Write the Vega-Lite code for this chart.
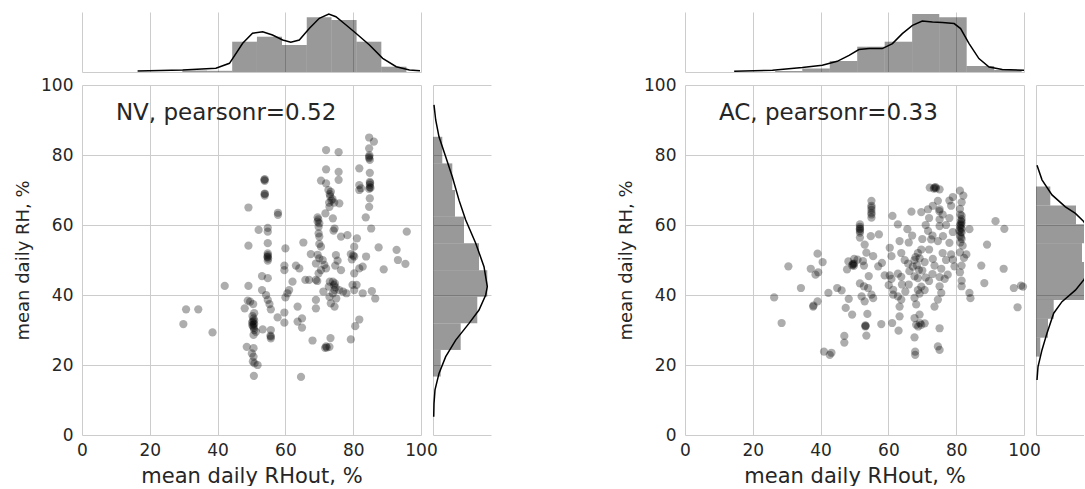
{
"$schema": "https://vega.github.io/schema/vega-lite/v6.json",
"padding": {"left": 14, "top": 10, "right": 0, "bottom": 0},
"config": {"font": "DejaVu Sans", "view": {"stroke": null}},
"columns": 5,
"bounds": "flush",
"spacing": {"row": 13, "column": 12},
"datasets": {
"nv": [{"x":30.7,"y":35.9},{"x":34.3,"y":35.9},{"x":29.9,"y":31.7},{"x":38.5,"y":29.3},{"x":42.1,"y":42.6},{"x":49.1,"y":65.0},{"x":49.1,"y":54.1},{"x":49.1,"y":42.6},{"x":48.0,"y":36.2},{"x":52.1,"y":58.6},{"x":53.9,"y":73.1},{"x":53.9,"y":72.6},{"x":53.9,"y":69.0},{"x":53.9,"y":68.4},{"x":54.8,"y":59.2},{"x":54.8,"y":58.1},{"x":54.8,"y":54.8},{"x":54.8,"y":51.9},{"x":54.8,"y":51.0},{"x":54.8,"y":49.8},{"x":54.9,"y":50.4},{"x":53.1,"y":45.4},{"x":54.8,"y":44.8},{"x":53.1,"y":41.4},{"x":54.3,"y":40.0},{"x":54.8,"y":38.6},{"x":55.3,"y":37.4},{"x":55.7,"y":35.9},{"x":57.8,"y":63.5},{"x":57.8,"y":62.9},{"x":60.0,"y":53.3},{"x":59.7,"y":48.4},{"x":59.7,"y":47.1},{"x":63.1,"y":48.4},{"x":64.1,"y":47.6},{"x":65.3,"y":55.0},{"x":67.5,"y":51.7},{"x":60.6,"y":40.5},{"x":61.1,"y":41.4},{"x":62.1,"y":43.8},{"x":60.0,"y":39.3},{"x":59.7,"y":35.0},{"x":59.7,"y":32.1},{"x":57.7,"y":33.6},{"x":63.6,"y":36.7},{"x":63.6,"y":32.4},{"x":64.9,"y":33.3},{"x":64.9,"y":30.7},{"x":65.9,"y":44.3},{"x":67.0,"y":44.3},{"x":69.0,"y":44.3},{"x":69.8,"y":46.2},{"x":70.5,"y":47.1},{"x":69.0,"y":38.6},{"x":69.0,"y":36.2},{"x":71.2,"y":41.0},{"x":68.0,"y":27.0},{"x":71.7,"y":24.9},{"x":72.0,"y":25.3},{"x":73.0,"y":25.2},{"x":73.3,"y":27.7},{"x":64.6,"y":16.6},{"x":50.7,"y":16.9},{"x":49.6,"y":38.1},{"x":50.5,"y":37.4},{"x":50.8,"y":34.8},{"x":50.6,"y":33.3},{"x":50.8,"y":32.7},{"x":50.2,"y":31.4},{"x":50.8,"y":31.8},{"x":50.8,"y":30.0},{"x":50.6,"y":28.6},{"x":50.6,"y":24.8},{"x":50.1,"y":23.3},{"x":50.6,"y":22.4},{"x":50.9,"y":20.5},{"x":51.8,"y":20.0},{"x":50.4,"y":21.0},{"x":51.3,"y":29.5},{"x":50.3,"y":34.0},{"x":53.3,"y":30.2},{"x":55.7,"y":28.1},{"x":55.7,"y":27.6},{"x":55.7,"y":30.0},{"x":48.6,"y":25.2},{"x":48.9,"y":38.4},{"x":72.0,"y":81.4},{"x":75.7,"y":80.8},{"x":72.0,"y":75.9},{"x":75.7,"y":75.2},{"x":75.7,"y":72.9},{"x":70.5,"y":72.7},{"x":72.0,"y":71.9},{"x":72.7,"y":70.0},{"x":73.4,"y":69.5},{"x":73.9,"y":67.4},{"x":74.4,"y":66.4},{"x":75.9,"y":66.2},{"x":72.9,"y":66.4},{"x":73.2,"y":68.2},{"x":69.5,"y":62.2},{"x":69.5,"y":61.0},{"x":69.8,"y":57.6},{"x":70.0,"y":56.7},{"x":70.0,"y":54.6},{"x":70.5,"y":53.8},{"x":69.8,"y":59.5},{"x":74.0,"y":61.9},{"x":74.5,"y":59.0},{"x":74.2,"y":58.4},{"x":71.8,"y":63.3},{"x":73.0,"y":65.2},{"x":76.4,"y":56.7},{"x":78.3,"y":57.1},{"x":81.1,"y":56.2},{"x":80.3,"y":53.8},{"x":79.3,"y":51.7},{"x":80.3,"y":51.0},{"x":79.6,"y":50.2},{"x":83.8,"y":51.0},{"x":81.8,"y":47.6},{"x":82.8,"y":48.1},{"x":80.3,"y":46.2},{"x":74.9,"y":51.4},{"x":75.4,"y":49.8},{"x":74.7,"y":48.4},{"x":76.4,"y":47.1},{"x":71.5,"y":48.6},{"x":72.0,"y":47.6},{"x":71.0,"y":50.0},{"x":74.0,"y":43.8},{"x":74.5,"y":41.4},{"x":75.9,"y":41.4},{"x":74.0,"y":40.5},{"x":75.0,"y":39.0},{"x":74.5,"y":36.7},{"x":74.8,"y":42.2},{"x":77.0,"y":41.0},{"x":78.0,"y":40.5},{"x":79.8,"y":42.9},{"x":80.3,"y":41.4},{"x":81.0,"y":42.9},{"x":82.8,"y":40.5},{"x":85.5,"y":41.1},{"x":86.5,"y":39.0},{"x":79.3,"y":27.3},{"x":80.6,"y":31.1},{"x":81.8,"y":33.0},{"x":73.0,"y":39.5},{"x":73.4,"y":37.6},{"x":72.8,"y":42.4},{"x":73.1,"y":43.8},{"x":84.7,"y":85.0},{"x":86.1,"y":83.8},{"x":84.7,"y":81.9},{"x":84.7,"y":79.1},{"x":84.9,"y":78.6},{"x":84.9,"y":74.9},{"x":84.9,"y":72.3},{"x":84.9,"y":70.8},{"x":84.7,"y":70.3},{"x":85.1,"y":70.6},{"x":84.9,"y":67.6},{"x":84.7,"y":65.2},{"x":83.7,"y":62.2},{"x":85.3,"y":59.0},{"x":84.7,"y":79.5},{"x":81.8,"y":76.2},{"x":81.8,"y":71.4},{"x":81.8,"y":70.0},{"x":82.3,"y":70.5},{"x":87.5,"y":53.6},{"x":89.0,"y":47.3},{"x":92.8,"y":52.9},{"x":93.2,"y":50.0},{"x":95.4,"y":48.9},{"x":95.8,"y":58.1},{"x":69.0,"y":49.0},{"x":70.0,"y":50.5},{"x":69.5,"y":51.5},{"x":50.5,"y":31.0},{"x":50.2,"y":32.2},{"x":50.6,"y":31.6},{"x":50.4,"y":32.5},{"x":50.7,"y":30.6},{"x":54.8,"y":51.4},{"x":54.7,"y":50.8},{"x":70.0,"y":60.5},{"x":69.7,"y":61.6},{"x":73.1,"y":68.8},{"x":73.6,"y":67.0},{"x":84.9,"y":71.5},{"x":85.0,"y":72.0},{"x":84.8,"y":79.9},{"x":74.3,"y":42.8},{"x":74.6,"y":43.3},{"x":69.4,"y":44.0},{"x":80.0,"y":51.3},{"x":53.8,"y":72.9},{"x":53.9,"y":68.8},{"x":55.6,"y":28.4},{"x":72.2,"y":25.0}],
"ac": [{"x":26.3,"y":39.3},{"x":28.5,"y":32.0},{"x":30.5,"y":48.2},{"x":34.2,"y":42.0},{"x":37.1,"y":47.5},{"x":39.1,"y":51.8},{"x":40.6,"y":49.4},{"x":38.5,"y":45.8},{"x":39.3,"y":46.5},{"x":37.8,"y":36.7},{"x":39.1,"y":38.2},{"x":37.9,"y":37.0},{"x":42.3,"y":40.6},{"x":44.9,"y":42.0},{"x":46.2,"y":41.3},{"x":41.0,"y":23.8},{"x":42.7,"y":22.9},{"x":43.2,"y":23.5},{"x":47.0,"y":28.3},{"x":47.0,"y":26.4},{"x":47.4,"y":36.3},{"x":48.3,"y":38.9},{"x":49.3,"y":34.4},{"x":48.2,"y":49.6},{"x":49.9,"y":50.3},{"x":50.9,"y":50.1},{"x":47.8,"y":47.3},{"x":49.6,"y":48.7},{"x":49.3,"y":48.5},{"x":49.9,"y":49.0},{"x":51.6,"y":60.2},{"x":51.6,"y":58.8},{"x":51.6,"y":57.8},{"x":51.6,"y":56.4},{"x":51.6,"y":59.5},{"x":55.0,"y":66.9},{"x":55.0,"y":65.5},{"x":55.0,"y":63.5},{"x":55.0,"y":62.1},{"x":55.0,"y":64.3},{"x":54.8,"y":56.8},{"x":57.2,"y":57.3},{"x":53.0,"y":54.4},{"x":53.5,"y":52.1},{"x":55.5,"y":51.1},{"x":57.0,"y":48.2},{"x":58.1,"y":49.2},{"x":52.5,"y":49.7},{"x":52.8,"y":48.4},{"x":54.2,"y":45.4},{"x":51.6,"y":43.3},{"x":52.8,"y":42.5},{"x":54.0,"y":42.0},{"x":55.0,"y":40.1},{"x":52.1,"y":39.6},{"x":55.5,"y":39.1},{"x":53.0,"y":38.2},{"x":53.8,"y":34.6},{"x":53.2,"y":31.3},{"x":53.2,"y":31.0},{"x":53.5,"y":28.4},{"x":57.9,"y":31.7},{"x":61.1,"y":32.0},{"x":63.0,"y":29.8},{"x":61.2,"y":62.6},{"x":62.8,"y":60.2},{"x":63.3,"y":55.4},{"x":65.6,"y":58.8},{"x":66.8,"y":63.8},{"x":69.7,"y":63.7},{"x":60.4,"y":53.5},{"x":60.9,"y":51.1},{"x":58.9,"y":45.6},{"x":60.4,"y":45.6},{"x":60.9,"y":44.6},{"x":60.1,"y":42.8},{"x":62.8,"y":46.1},{"x":63.8,"y":45.2},{"x":61.4,"y":41.5},{"x":61.4,"y":40.1},{"x":62.8,"y":39.6},{"x":63.8,"y":38.7},{"x":63.3,"y":36.7},{"x":63.3,"y":33.9},{"x":63.8,"y":52.0},{"x":64.8,"y":50.0},{"x":65.8,"y":49.0},{"x":67.7,"y":50.0},{"x":67.2,"y":48.1},{"x":66.2,"y":46.8},{"x":68.7,"y":52.0},{"x":69.7,"y":53.0},{"x":69.2,"y":50.5},{"x":67.7,"y":45.3},{"x":68.7,"y":44.8},{"x":69.7,"y":42.4},{"x":68.7,"y":41.4},{"x":69.2,"y":40.4},{"x":70.7,"y":41.4},{"x":67.7,"y":39.2},{"x":68.2,"y":37.3},{"x":69.2,"y":34.4},{"x":67.7,"y":33.4},{"x":68.2,"y":31.5},{"x":69.7,"y":31.5},{"x":70.7,"y":31.9},{"x":67.7,"y":27.9},{"x":71.7,"y":64.5},{"x":73.1,"y":65.5},{"x":75.1,"y":64.5},{"x":72.2,"y":70.7},{"x":73.6,"y":70.7},{"x":75.1,"y":70.2},{"x":74.0,"y":70.5},{"x":74.6,"y":66.9},{"x":75.1,"y":61.6},{"x":75.1,"y":59.7},{"x":76.1,"y":56.8},{"x":71.7,"y":58.3},{"x":72.6,"y":55.9},{"x":74.6,"y":55.4},{"x":70.7,"y":49.4},{"x":73.1,"y":50.3},{"x":73.6,"y":48.4},{"x":75.6,"y":47.5},{"x":75.1,"y":45.1},{"x":76.6,"y":44.6},{"x":75.1,"y":42.5},{"x":75.6,"y":40.6},{"x":74.6,"y":38.7},{"x":73.6,"y":36.7},{"x":75.1,"y":30.5},{"x":74.6,"y":25.3},{"x":75.1,"y":24.3},{"x":67.9,"y":23.8},{"x":67.9,"y":22.9},{"x":78.0,"y":54.9},{"x":78.5,"y":51.6},{"x":79.0,"y":50.1},{"x":79.5,"y":48.2},{"x":77.5,"y":45.8},{"x":81.1,"y":69.8},{"x":82.1,"y":68.4},{"x":81.6,"y":66.5},{"x":81.1,"y":64.6},{"x":81.6,"y":62.7},{"x":81.6,"y":61.7},{"x":81.6,"y":60.8},{"x":81.1,"y":59.8},{"x":81.6,"y":58.9},{"x":81.6,"y":57.9},{"x":81.1,"y":57.0},{"x":81.6,"y":56.0},{"x":81.9,"y":54.1},{"x":81.1,"y":52.2},{"x":81.6,"y":48.4},{"x":81.1,"y":46.5},{"x":81.6,"y":44.1},{"x":81.6,"y":42.5},{"x":81.3,"y":60.3},{"x":81.3,"y":59.2},{"x":81.4,"y":61.2},{"x":80.9,"y":58.4},{"x":82.3,"y":50.6},{"x":83.0,"y":51.6},{"x":83.9,"y":58.8},{"x":78.5,"y":65.5},{"x":83.9,"y":40.6},{"x":84.2,"y":39.1},{"x":87.4,"y":48.4},{"x":88.3,"y":43.4},{"x":89.1,"y":54.4},{"x":91.6,"y":61.1},{"x":94.2,"y":58.9},{"x":94.0,"y":47.5},{"x":97.0,"y":42.0},{"x":99.1,"y":42.7},{"x":98.1,"y":36.5},{"x":99.7,"y":42.4},{"x":66,"y":55},{"x":67,"y":57},{"x":70,"y":56},{"x":71,"y":60},{"x":72,"y":62},{"x":77,"y":60},{"x":78,"y":62},{"x":79,"y":58},{"x":66,"y":43},{"x":72,"y":44},{"x":73,"y":46},{"x":76,"y":52},{"x":77,"y":50},{"x":70,"y":47},{"x":71,"y":45},{"x":64,"y":43},{"x":65,"y":41},{"x":72,"y":53},{"x":73,"y":57},{"x":76,"y":63},{"x":78,"y":67},{"x":79,"y":68},{"x":81.2,"y":63.0},{"x":81.5,"y":60.0},{"x":81.3,"y":58.0},{"x":81.4,"y":56.5},{"x":81.2,"y":55.0},{"x":49.5,"y":48.9},{"x":49.8,"y":48.3},{"x":51.6,"y":58.3},{"x":51.6,"y":59.0},{"x":55.0,"y":63.0},{"x":55.0,"y":65.0},{"x":73.4,"y":70.4},{"x":73.9,"y":70.8},{"x":68.4,"y":48.5},{"x":68.0,"y":50.8},{"x":69.0,"y":47.2},{"x":69.3,"y":32.0},{"x":68.8,"y":31.0},{"x":53.3,"y":31.2},{"x":75.0,"y":64.0}],
"nv_xh": [{"b0":29.6,"b1":36.9,"h":1.5},{"b0":36.9,"b1":44.3,"h":1.2},{"b0":44.3,"b1":51.6,"h":30.3},{"b0":51.6,"b1":59.0,"h":35.3},{"b0":59.0,"b1":66.3,"h":27},{"b0":66.3,"b1":73.6,"h":54.7},{"b0":73.6,"b1":81.0,"h":52},{"b0":81.0,"b1":88.3,"h":30.3},{"b0":88.3,"b1":95.7,"h":5.3}],
"nv_xk": [{"v":16.4,"d":1},{"v":29.7,"d":2},{"v":39.5,"d":3.7},{"v":43.5,"d":8.7},{"v":47.4,"d":28.7},{"v":50.3,"d":38.7},{"v":53.3,"d":40.3},{"v":56.2,"d":37},{"v":59.2,"d":32},{"v":61.6,"d":29.7},{"v":64.1,"d":32},{"v":67.1,"d":43.7},{"v":70.0,"d":53.7},{"v":72.8,"d":58},{"v":74.9,"d":55.3},{"v":77.9,"d":47},{"v":80.8,"d":38.7},{"v":84.8,"d":27},{"v":88.7,"d":13.7},{"v":92.7,"d":5.3},{"v":96.6,"d":2},{"v":99.7,"d":1.3}],
"nv_yh": [{"b0":16.7,"b1":24.3,"h":7.7},{"b0":24.3,"b1":31.9,"h":27.7},{"b0":31.9,"b1":39.5,"h":44.3},{"b0":39.5,"b1":47.1,"h":54.3},{"b0":47.1,"b1":54.8,"h":46},{"b0":54.8,"b1":62.4,"h":31},{"b0":62.4,"b1":70.0,"h":22},{"b0":70.0,"b1":77.6,"h":19.3},{"b0":77.6,"b1":85.2,"h":9.3}],
"nv_yk": [{"v":94.3,"d":1},{"v":90,"d":2.7},{"v":85.2,"d":6},{"v":79.5,"d":12.7},{"v":73.8,"d":19.3},{"v":67.1,"d":26},{"v":61.4,"d":32.7},{"v":54.8,"d":42.7},{"v":48.1,"d":51},{"v":42.4,"d":54.3},{"v":40,"d":52.7},{"v":35.7,"d":46},{"v":31.9,"d":36},{"v":27.1,"d":22.7},{"v":22.4,"d":12.7},{"v":17.6,"d":6},{"v":12.9,"d":2},{"v":9,"d":1},{"v":5.2,"d":0.7}],
"ac_xh": [{"b0":26.6,"b1":34.6,"h":1},{"b0":34.6,"b1":42.7,"h":3.5},{"b0":42.7,"b1":50.8,"h":11},{"b0":50.8,"b1":58.9,"h":25.3},{"b0":58.9,"b1":67.0,"h":30.3},{"b0":67.0,"b1":75.0,"h":58},{"b0":75.0,"b1":83.1,"h":54.7},{"b0":83.1,"b1":91.2,"h":6},{"b0":91.2,"b1":99.3,"h":2}],
"ac_xk": [{"v":14.5,"d":0.7},{"v":25.8,"d":1.7},{"v":34.6,"d":4.4},{"v":40.5,"d":6.7},{"v":44.9,"d":10.7},{"v":48.4,"d":16.7},{"v":51.3,"d":22.4},{"v":54.3,"d":23.4},{"v":58.2,"d":23.4},{"v":61.2,"d":28.4},{"v":64.1,"d":38.4},{"v":67.1,"d":46.7},{"v":70.0,"d":51},{"v":73.0,"d":50},{"v":75.9,"d":49.4},{"v":79.4,"d":48.4},{"v":81.3,"d":43.4},{"v":83.8,"d":28.4},{"v":86.7,"d":13.4},{"v":89.7,"d":5},{"v":93.6,"d":2.4},{"v":100,"d":1.7}],
"ac_yh": [{"b0":22.4,"b1":27.8,"h":4.3},{"b0":27.8,"b1":33.2,"h":12},{"b0":33.2,"b1":38.6,"h":17.7},{"b0":38.6,"b1":44.0,"h":52},{"b0":44.0,"b1":49.4,"h":60},{"b0":49.4,"b1":54.8,"h":46},{"b0":54.8,"b1":60.2,"h":60},{"b0":60.2,"b1":65.6,"h":40},{"b0":65.6,"b1":71.0,"h":14.3}],
"ac_yk": [{"v":77.1,"d":1},{"v":72.9,"d":6},{"v":68.6,"d":16},{"v":65.2,"d":29.4},{"v":63.3,"d":39.4},{"v":61,"d":47.7},{"v":57,"d":56},{"v":52.5,"d":59},{"v":48.5,"d":57},{"v":44.3,"d":47.7},{"v":41.4,"d":39.4},{"v":38.1,"d":26},{"v":34.8,"d":17.7},{"v":29.1,"d":11},{"v":24.3,"d":6},{"v":19.5,"d":2},{"v":15.7,"d":1}]
},
"concat": [
{"width":339,"height":60,"layer":[
 {"data":{"name":"nv_xh"},"mark":{"type":"rect","color":"black","opacity":0.4},"encoding":{"x":{"field":"b0","type":"quantitative","scale":{"domain":[0,100],"nice":false},"axis":{"values":[0,20,40,60,80,100],"grid":true,"gridColor":"#cccccc","labels":false,"ticks":false,"domain":true,"domainColor":"#cccccc","title":null}},"x2":{"field":"b1"},"y":{"field":"h","type":"quantitative","scale":{"domain":[0,60],"nice":false},"axis":null},"y2":{"datum":0}}},
 {"data":{"name":"nv_xk"},"mark":{"type":"line","color":"black","strokeWidth":1.5},"encoding":{"x":{"field":"v","type":"quantitative"},"y":{"field":"d","type":"quantitative"}}}
]},
{"width":58,"height":60,"data":{"values":[{}]},"mark":{"type":"text"}},
{"width":170,"height":60,"data":{"values":[{}]},"mark":{"type":"text"}},
{"width":339,"height":60,"layer":[
 {"data":{"name":"ac_xh"},"mark":{"type":"rect","color":"black","opacity":0.4},"encoding":{"x":{"field":"b0","type":"quantitative","scale":{"domain":[0,100],"nice":false},"axis":{"values":[0,20,40,60,80,100],"grid":true,"gridColor":"#cccccc","labels":false,"ticks":false,"domain":true,"domainColor":"#cccccc","title":null}},"x2":{"field":"b1"},"y":{"field":"h","type":"quantitative","scale":{"domain":[0,60],"nice":false},"axis":null},"y2":{"datum":0}}},
 {"data":{"name":"ac_xk"},"mark":{"type":"line","color":"black","strokeWidth":1.5},"encoding":{"x":{"field":"v","type":"quantitative"},"y":{"field":"d","type":"quantitative"}}}
]},
{"width":48,"height":60,"data":{"values":[{}]},"mark":{"type":"text"}},
{"width":339,"height":350,"layer":[
 {"data":{"name":"nv"},"mark":{"type":"circle","size":68,"opacity":0.32,"color":"black"},"encoding":{
  "x":{"field":"x","type":"quantitative","scale":{"domain":[0,100],"nice":false},"axis":{"values":[0,20,40,60,80,100],"title":"mean daily RHout, %","grid":true,"gridColor":"#cccccc","domain":false,"ticks":false,"labelFlush":false,"labelPadding":7,"labelFontSize":17,"labelColor":"#262626","titleFontSize":21,"titleFontWeight":"normal","titleColor":"#262626","titlePadding":7}},
  "y":{"field":"y","type":"quantitative","scale":{"domain":[0,100],"nice":false},"axis":{"values":[0,20,40,60,80,100],"title":"mean daily RH, %","grid":true,"gridColor":"#cccccc","domain":false,"ticks":false,"labelPadding":9,"labelFontSize":17,"labelColor":"#262626","titleFontSize":18,"titleFontWeight":"normal","titleColor":"#262626","titlePadding":8}}}},
 {"data":{"values":[{"x":10,"y":90,"label":"NV, pearsonr=0.52"}]},"mark":{"type":"text","align":"left","baseline":"alphabetic","fontSize":23,"color":"#262626"},"encoding":{"x":{"field":"x","type":"quantitative"},"y":{"field":"y","type":"quantitative"},"text":{"field":"label"}}}
]},
{"width":58,"height":350,"layer":[
 {"data":{"name":"nv_yh"},"mark":{"type":"rect","color":"black","opacity":0.4},"encoding":{"y":{"field":"b0","type":"quantitative","scale":{"domain":[0,100],"nice":false},"axis":{"values":[0,20,40,60,80,100],"grid":true,"gridColor":"#cccccc","labels":false,"ticks":false,"domain":true,"domainColor":"#cccccc","title":null}},"y2":{"field":"b1"},"x":{"field":"h","type":"quantitative","scale":{"domain":[0,58],"nice":false},"axis":null},"x2":{"datum":0}}},
 {"data":{"name":"nv_yk"},"mark":{"type":"line","color":"black","strokeWidth":1.5},"encoding":{"y":{"field":"v","type":"quantitative"},"x":{"field":"d","type":"quantitative"},"order":{"field":"v","type":"quantitative"}}}
]},
{"width":170,"height":350,"data":{"values":[{}]},"mark":{"type":"text"}},
{"width":339,"height":350,"layer":[
 {"data":{"name":"ac"},"mark":{"type":"circle","size":68,"opacity":0.32,"color":"black"},"encoding":{
  "x":{"field":"x","type":"quantitative","scale":{"domain":[0,100],"nice":false},"axis":{"values":[0,20,40,60,80,100],"title":"mean daily RHout, %","grid":true,"gridColor":"#cccccc","domain":false,"ticks":false,"labelFlush":false,"labelPadding":7,"labelFontSize":17,"labelColor":"#262626","titleFontSize":21,"titleFontWeight":"normal","titleColor":"#262626","titlePadding":7}},
  "y":{"field":"y","type":"quantitative","scale":{"domain":[0,100],"nice":false},"axis":{"values":[0,20,40,60,80,100],"title":"mean daily RH, %","grid":true,"gridColor":"#cccccc","domain":false,"ticks":false,"labelPadding":9,"labelFontSize":17,"labelColor":"#262626","titleFontSize":18,"titleFontWeight":"normal","titleColor":"#262626","titlePadding":8}}}},
 {"data":{"values":[{"x":10,"y":90,"label":"AC, pearsonr=0.33"}]},"mark":{"type":"text","align":"left","baseline":"alphabetic","fontSize":23,"color":"#262626"},"encoding":{"x":{"field":"x","type":"quantitative"},"y":{"field":"y","type":"quantitative"},"text":{"field":"label"}}}
]},
{"width":48,"height":350,"layer":[
 {"data":{"name":"ac_yh"},"mark":{"type":"rect","color":"black","opacity":0.4,"clip":true},"encoding":{"y":{"field":"b0","type":"quantitative","scale":{"domain":[0,100],"nice":false},"axis":{"values":[0,20,40,60,80,100],"grid":true,"gridColor":"#cccccc","labels":false,"ticks":false,"domain":true,"domainColor":"#cccccc","title":null}},"y2":{"field":"b1"},"x":{"field":"h","type":"quantitative","scale":{"domain":[0,48],"nice":false},"axis":null},"x2":{"datum":0}}},
 {"data":{"name":"ac_yk"},"mark":{"type":"line","color":"black","strokeWidth":1.5,"clip":true},"encoding":{"y":{"field":"v","type":"quantitative"},"x":{"field":"d","type":"quantitative"},"order":{"field":"v","type":"quantitative"}}}
]}
]
}
